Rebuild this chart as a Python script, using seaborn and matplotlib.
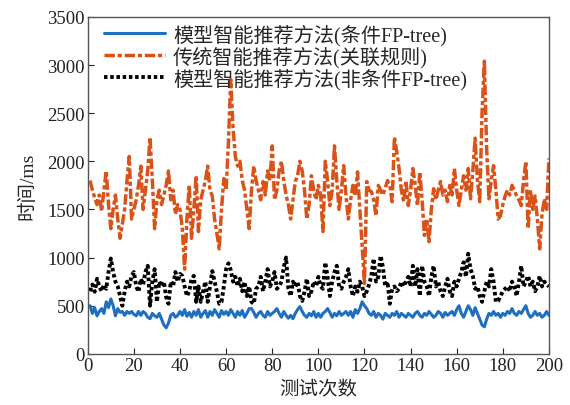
import numpy as np
import pandas as pd
import matplotlib
matplotlib.use("Agg")
import matplotlib.pyplot as plt
import seaborn as sns

trials = list(range(1, 201))

blue_fp = [
    500, 420, 480, 395, 440, 470, 420, 540, 480, 570,
    500, 395, 470, 430, 440, 400, 440, 420, 440, 410,
    395, 440, 400, 440, 420, 380, 365, 420, 395, 380,
    420, 360, 300, 270, 320, 400, 420, 380, 400, 440,
    400, 460, 390, 430, 380, 440, 400, 460, 380, 420,
    450, 380, 440, 400, 460, 420, 380, 450, 410, 440,
    400, 460, 420, 380, 440, 400, 450, 380, 420, 470,
    470, 430, 380, 420, 440, 400, 380, 440, 400, 420,
    440, 470, 420, 380, 440, 400, 370, 400, 365, 420,
    460, 490, 440, 400, 380, 420, 395, 440, 380, 420,
    380, 420, 440, 470, 430, 380, 420, 395, 440, 400,
    420, 440, 400, 440, 380, 460, 420, 470, 540, 500,
    470, 420, 400, 440, 380, 420, 400, 360, 420, 400,
    380, 420, 400, 440, 380, 420, 400, 380, 420, 400,
    380, 420, 440, 400, 380, 420, 400, 440, 410, 380,
    400, 440, 420, 380, 430, 400, 420, 440, 400, 460,
    500, 420, 380, 440, 500, 460, 400, 480, 420, 360,
    300, 280, 360, 420, 400, 440, 400, 420, 380, 420,
    400, 440, 420, 470, 420, 400, 440, 420, 460, 500,
    420, 380, 400, 440, 400, 420, 380, 400, 440, 400,
]

orange_rules = [
    1800, 1700, 1620, 1550, 1650, 1480, 1700, 1900, 1550, 1300,
    1500, 1650, 1400, 1200, 1350, 1500, 1800, 2050, 1400, 1500,
    1600, 1750, 1950, 1500, 1700, 1900, 2250, 1800, 1300, 1600,
    1700, 1550, 1650, 1750, 1900, 1600, 1700, 1450, 1550, 1500,
    1300, 880, 1400, 1750, 1200, 1500, 1850, 1270, 1600, 1700,
    1800, 1950, 1700, 1640, 1400, 1250, 1090, 1500, 1820, 1700,
    2200, 2850, 2350, 2050, 1950, 2000, 1800, 1700, 1500, 1300,
    1700, 1950, 1800, 1700, 1600, 1790, 1650, 1900, 1800, 2160,
    1600, 1700, 1900, 2000, 1800, 1650, 1550, 1400, 1600, 1790,
    1850, 2000, 1900, 1700, 1400, 1550, 1850, 1700, 1600, 1750,
    1650, 1270, 2000, 1800, 1540, 1700, 2160, 1800, 1500, 1700,
    1955, 1640, 1400, 1600, 1750, 1640, 1890, 1500, 1100, 730,
    1790, 1700, 1685, 1600, 1435, 1750, 1700, 1650, 1720, 1800,
    1750, 1580, 2250, 2100, 1925, 1700, 1580, 1800, 1540, 1700,
    1925, 1750, 1540, 1890, 1600, 1230, 1400, 1165, 1500, 1716,
    1600, 1700, 1790, 1650, 1700, 1580, 1750, 1650, 1925, 1700,
    1540, 1700, 1850, 1700, 1925, 1610, 1900, 2240, 1800, 1580,
    2500, 3040, 2130, 1610, 1800, 1955, 1700, 1400, 1435, 1550,
    1640, 1700, 1650, 1750, 1700, 1640, 1600, 1540, 1800, 2000,
    1300, 1700, 1500, 1640, 1400, 1090, 1450, 1610, 1500, 2030,
]

black_nonfp = [
    650, 720, 645, 780, 700, 650, 720, 676, 850, 990,
    850, 750, 700, 600, 500, 650, 750, 700, 810, 850,
    700, 645, 780, 720, 850, 915, 500, 750, 880, 540,
    750, 700, 750, 590, 520, 750, 700, 850, 750, 830,
    810, 700, 600, 650, 780, 810, 540, 700, 540, 650,
    750, 540, 700, 860, 750, 645, 520, 540, 700, 880,
    940, 870, 750, 800, 700, 780, 650, 750, 600, 700,
    540, 520, 676, 700, 800, 650, 750, 880, 700, 750,
    850, 676, 700, 750, 900, 1000, 676, 600, 750, 700,
    750, 600, 550, 645, 780, 600, 650, 750, 700, 800,
    700, 676, 950, 800, 600, 750, 850, 915, 700, 676,
    750, 800, 880, 700, 600, 700, 645, 750, 700, 600,
    650, 720, 810, 990, 750, 800, 1020, 900, 700, 750,
    520, 676, 700, 650, 676, 750, 700, 750, 800, 700,
    915, 700, 880, 600, 915, 750, 700, 600, 800, 915,
    700, 750, 650, 600, 700, 780, 650, 600, 750, 700,
    780, 850, 950, 800, 1040, 880, 810, 676, 700, 600,
    540, 650, 750, 700, 880, 750, 540, 550, 600, 650,
    676, 700, 650, 750, 700, 600, 750, 915, 700, 750,
    810, 700, 750, 650, 700, 810, 700, 750, 720, 700,
]

labels = ["模型智能推荐方法(条件FP-tree)",
          "传统智能推荐方法(关联规则)",
          "模型智能推荐方法(非条件FP-tree)"]
xticks = list(range(0, 201, 20))
yticks = list(range(0, 3501, 500))

sns.set_style("ticks")
plt.rcParams['font.family'] = ['Liberation Serif', 'Noto Sans CJK SC', 'DejaVu Sans']
plt.rcParams['axes.unicode_minus'] = False

fig = plt.figure(figsize=(5.7, 4.06), dpi=100)
ax = fig.add_axes([0.154, 0.126, 0.809, 0.830])

df = pd.DataFrame({"x": trials, "blue": blue_fp, "orange": orange_rules, "black": black_nonfp})

sns.lineplot(data=df, x="x", y="blue", ax=ax, color="#1F6FC0", lw=2.2,
             linestyle="-", label=labels[0])
sns.lineplot(data=df, x="x", y="orange", ax=ax, color="#D95319", lw=2.5,
             dashes=False, label=labels[1])
sns.lineplot(data=df, x="x", y="black", ax=ax, color="black", lw=2.8,
             dashes=False, label=labels[2])
orange_dash = [3.0, 0.8, 1.2, 0.8]
black_dash = [0.9, 0.7]
lines = ax.get_lines()
lines[1].set_dashes(orange_dash)
lines[2].set_dashes(black_dash)

ax.set_xlim(0, 200)
ax.set_ylim(0, 3500)
ax.set_xticks(xticks)
ax.set_yticks(yticks)
ax.tick_params(direction="in", length=4, labelsize=13.5, colors="#222222", pad=2)
for s in ax.spines.values():
    s.set_visible(True)
    s.set_color("#555555")
    s.set_linewidth(1.0)
ax.set_xlabel("测试次数", fontsize=14, labelpad=5)
ax.set_ylabel("时间/ms", fontsize=14, labelpad=8)

leg = ax.legend(loc="upper left", bbox_to_anchor=(0.01, 1.015), frameon=False,
                fontsize=14.5, handlelength=3.0, handletextpad=0.4,
                labelspacing=0.02, borderaxespad=0.2)
leg.get_lines()[1].set_dashes(orange_dash)
leg.get_lines()[2].set_dashes(black_dash)

fig.savefig("out.png", dpi=100)
